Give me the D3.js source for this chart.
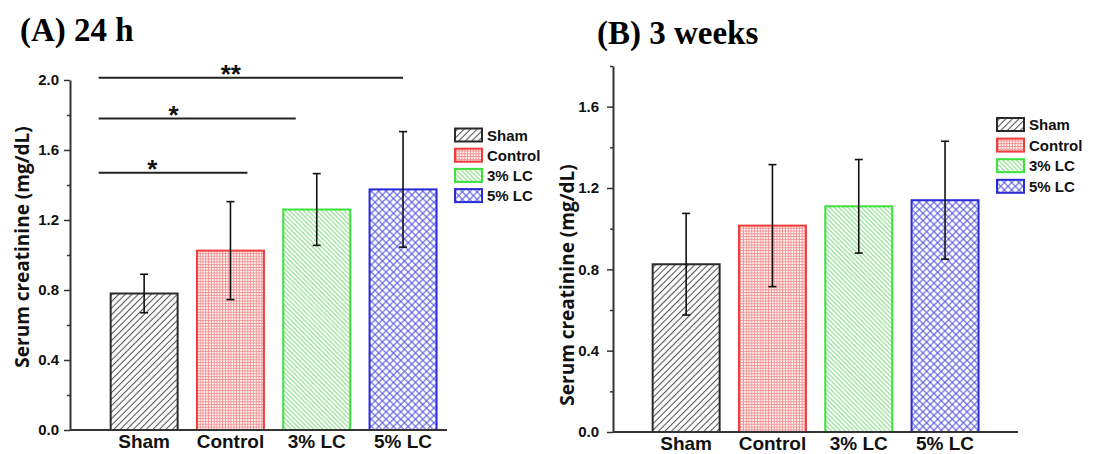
<!DOCTYPE html>
<html>
<head>
<meta charset="utf-8">
<script src="https://cdn.jsdelivr.net/npm/d3@7"></script>
<style>
  body { margin: 0; background: #fff; }
  svg { display: block; }
  .tick text { font-family: "Liberation Sans", Arial, sans-serif; font-weight: bold; }
</style>
</head>
<body>
<div id="chart"></div>
<script>
// groups and values
const categories = ['Sham', 'Control', '3% LC', '5% LC'];
const mean24h = [0.78, 1.025, 1.26, 1.375];
const sd24h = [0.11, 0.28, 0.205, 0.33];
const mean3w = [0.825, 1.015, 1.11, 1.14];
const sd3w = [0.25, 0.30, 0.23, 0.29];
const yTicks24h = [0, 0.4, 0.8, 1.2, 1.6, 2.0];
const yTicks3w = [0, 0.4, 0.8, 1.2, 1.6];
// significance brackets in panel A (Sham vs ...)
const sigTo = ['Control', '3% LC', '5% LC'];
const sigLevel = [1.47, 1.78, 2.013];
const sigLabel = ['*', '*', '**'];

const colors = ['#2a2a2a', '#f03c3c', '#3ee03e', '#2b2bd8'];
const yTitle = 'Serum creatinine (mg/dL)';

const width = 1111, height = 454;
const svg = d3.select('#chart').append('svg')
  .attr('width', width)
  .attr('height', height);

// fill patterns, one per group
const defs = svg.append('defs');
function hatch(id, size, angle, color, sw, cross) {
  const p = defs.append('pattern')
    .attr('id', id)
    .attr('patternUnits', 'userSpaceOnUse')
    .attr('width', size).attr('height', size)
    .attr('patternTransform', `rotate(${angle})`);
  p.append('rect').attr('width', size).attr('height', size).attr('fill', '#fff');
  p.append('line').attr('x1', size / 2).attr('x2', size / 2).attr('y1', 0).attr('y2', size)
    .attr('stroke', color).attr('stroke-width', sw);
  if (cross) {
    p.append('line').attr('y1', size / 2).attr('y2', size / 2).attr('x1', 0).attr('x2', size)
      .attr('stroke', color).attr('stroke-width', sw);
  }
}
hatch('pat0', 4.6, 45, '#555', 1.1, false);
hatch('pat1', 2.8, 0, '#f49090', 1, true);
hatch('pat2', 3.2, -45, '#8fe08f', 1.2, false);
hatch('pat3', 5.2, 45, '#5a5ae2', 1.1, true);

const panels = [
  { title: '(A) 24 h', titleX: 20, titleY: 41, means: mean24h, sds: sd24h, ticks: yTicks24h,
    yMax: 2.0, top: 80, bottom: 430, axisX: 70, axisEnd: 447, x0: 101, tickPad: 5,
    labelX: 22, labelY: 247, legendX: 455, legendY: 135, legendStep: 20.2, sig: true },
  { title: '(B) 3 weeks', titleX: 597, titleY: 44, means: mean3w, sds: sd3w, ticks: yTicks3w,
    yMax: 1.8, top: 66, bottom: 432, axisX: 613, axisEnd: 1018, x0: 643, tickPad: 8,
    labelX: 567, labelY: 285, legendX: 997, legendY: 124.5, legendStep: 20.6, sig: false }
];

panels.forEach(p => {
  const g = svg.append('g');
  const step = 86.3;
  const x = d3.scaleBand()
    .domain(categories)
    .range([p.x0, p.x0 + step * categories.length])
    .paddingInner(0.224)
    .paddingOuter(0.112);
  const y = d3.scaleLinear().domain([0, p.yMax]).range([p.bottom, p.top]);

  g.append('text')
    .attr('x', p.titleX).attr('y', p.titleY)
    .attr('font-family', '"Liberation Serif", "Times New Roman", serif')
    .attr('font-weight', 'bold')
    .attr('font-size', 33)
    .text(p.title);

  // bars
  g.selectAll('.bar')
    .data(p.means)
    .enter()
    .append('rect')
    .attr('class', 'bar')
    .attr('x', (d, i) => x(categories[i]))
    .attr('y', d => y(d))
    .attr('width', x.bandwidth())
    .attr('height', d => y(0) - y(d))
    .attr('fill', (d, i) => `url(#pat${i})`)
    .attr('stroke', (d, i) => colors[i])
    .attr('stroke-width', 2);

  // error bars
  const eb = g.selectAll('.err')
    .data(p.means)
    .enter()
    .append('g')
    .attr('class', 'err')
    .attr('stroke', '#111')
    .attr('stroke-width', 1.6);
  const cx = i => x(categories[i]) + x.bandwidth() / 2;
  eb.append('line')
    .attr('x1', (d, i) => cx(i)).attr('x2', (d, i) => cx(i))
    .attr('y1', (d, i) => y(d - p.sds[i])).attr('y2', (d, i) => y(d + p.sds[i]));
  eb.append('line')
    .attr('x1', (d, i) => cx(i) - 4).attr('x2', (d, i) => cx(i) + 4)
    .attr('y1', (d, i) => y(d + p.sds[i])).attr('y2', (d, i) => y(d + p.sds[i]));
  eb.append('line')
    .attr('x1', (d, i) => cx(i) - 4).attr('x2', (d, i) => cx(i) + 4)
    .attr('y1', (d, i) => y(d - p.sds[i])).attr('y2', (d, i) => y(d - p.sds[i]));

  // y axis with minor ticks
  const minor = d3.range(0, p.yMax + 0.001, 0.2).filter(v => !p.ticks.some(t => Math.abs(t - v) < 1e-6));
  g.append('g')
    .attr('transform', `translate(${p.axisX},0)`)
    .call(d3.axisLeft(y).tickValues(minor).tickSize(3).tickFormat(''))
    .call(a => a.select('.domain').remove())
    .call(a => a.selectAll('line').attr('stroke', '#333').attr('stroke-width', 1.5));
  const ya = g.append('g')
    .attr('transform', `translate(${p.axisX},0)`)
    .call(d3.axisLeft(y).tickValues(p.ticks).tickSize(6).tickSizeOuter(0)
      .tickPadding(p.tickPad).tickFormat(d3.format('.1f')));
  ya.select('.domain').attr('stroke', '#333').attr('stroke-width', 2);
  ya.selectAll('line').attr('stroke', '#333').attr('stroke-width', 1.5);
  ya.selectAll('text').attr('font-size', 15).attr('fill', '#111');

  // x axis baseline and labels
  g.append('line')
    .attr('x1', p.axisX).attr('x2', p.axisEnd)
    .attr('y1', y(0)).attr('y2', y(0))
    .attr('stroke', '#333').attr('stroke-width', 2);
  const xa = g.append('g')
    .attr('transform', `translate(0,${y(0)})`)
    .call(d3.axisBottom(x).tickSize(0).tickPadding(4));
  xa.select('.domain').remove();
  xa.selectAll('text').attr('font-size', 19).attr('fill', '#111').attr('dy', '0.75em');

  // y title
  g.append('text')
    .attr('transform', `translate(${p.labelX},${p.labelY}) rotate(-90)`)
    .attr('text-anchor', 'middle')
    .attr('dominant-baseline', 'central')
    .attr('font-family', '"Open Sans", sans-serif')
    .attr('font-weight', 'bold')
    .attr('font-size', 19)
    .attr('fill', '#111')
    .text(yTitle);

  // legend
  const lg = g.selectAll('.leg')
    .data(categories)
    .enter()
    .append('g')
    .attr('class', 'leg')
    .attr('transform', (d, i) => `translate(${p.legendX},${p.legendY + i * p.legendStep})`);
  lg.append('rect')
    .attr('x', 0).attr('y', -6.5)
    .attr('width', 27).attr('height', 13)
    .attr('fill', (d, i) => `url(#pat${i})`)
    .attr('stroke', (d, i) => colors[i])
    .attr('stroke-width', 2);
  lg.append('text')
    .attr('x', 32).attr('y', 0)
    .attr('dominant-baseline', 'central')
    .attr('font-family', '"Liberation Sans", Arial, sans-serif')
    .attr('font-weight', 'bold')
    .attr('font-size', 15)
    .attr('fill', '#111')
    .text(d => d);

  // significance brackets
  if (p.sig) {
    const endOffset = [17, -21, 0];
    const starAt = [0.36, 0.38, 0.434];
    const xStart = x('Sham') - 12;
    sigTo.forEach((c, i) => {
      const xEnd = x(c) + x.bandwidth() / 2 + endOffset[i];
      g.append('line')
        .attr('x1', xStart).attr('x2', xEnd)
        .attr('y1', y(sigLevel[i])).attr('y2', y(sigLevel[i]))
        .attr('stroke', '#222').attr('stroke-width', 1.8);
      g.append('text')
        .attr('x', xStart + (xEnd - xStart) * starAt[i])
        .attr('y', y(sigLevel[i]) + 5)
        .attr('text-anchor', 'middle')
        .attr('font-family', '"Liberation Sans", Arial, sans-serif')
        .attr('font-weight', 'bold')
        .attr('font-size', 26)
        .attr('fill', '#111')
        .text(sigLabel[i]);
    });
  }
});
</script>
</body>
</html>
